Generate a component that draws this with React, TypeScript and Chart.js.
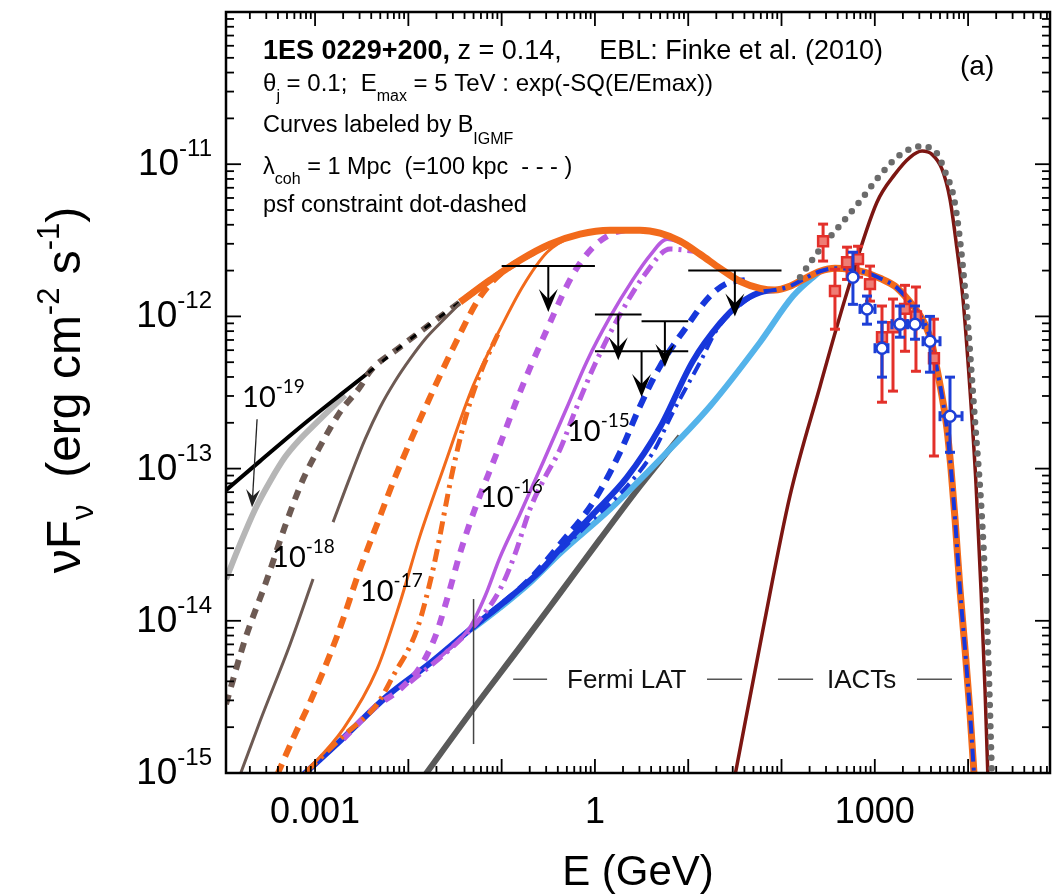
import React, { useEffect, useRef } from "react";
import { Chart, registerables } from "chart.js";

Chart.register(...registerables);

const SANS = '"Liberation Sans", Arial, Helvetica, sans-serif';
const LABEL_FONT = 'Lato, "Liberation Sans", sans-serif';

// ---------------- axes ----------------
const X_MIN = 1.11e-4;
const X_MAX = 7.55e4;
const Y_MIN = 1e-15;
const Y_MAX = 1e-10;
const xTickValues = [0.001, 1, 1000];
const xTickLabels = ["0.001", "1", "1000"];
const yTickExponents = [-15, -14, -13, -12, -11];

// ---------------- curves (E in GeV, vFv in erg cm^-2 s^-1) ----------------
// common upper envelope (all curves merge into it)
const envE = [1.11e-4, 2.57e-4, 6.9e-4, 1.85e-3, 3.89e-3, 8.15e-3, 0.0171, 0.0358, 0.0751, 0.157, 0.33, 0.692, 1.45, 3.04, 4.99, 8.17, 13.4, 21.9, 35.9, 58.9, 85.2, 123, 179, 259, 374, 542, 785, 1137, 1645, 2108, 2698, 3454, 4105, 4642, 5253, 5943, 6561, 7244, 8185, 9268, 10470, 11860];
const envF = [7.21e-14, 1.12e-13, 1.87e-13, 3.04e-13, 4.36e-13, 6.28e-13, 8.89e-13, 1.24e-12, 1.73e-12, 2.34e-12, 2.98e-12, 3.47e-12, 3.68e-12, 3.68e-12, 3.52e-12, 3.12e-12, 2.56e-12, 2.07e-12, 1.7e-12, 1.53e-12, 1.49e-12, 1.58e-12, 1.78e-12, 1.98e-12, 2.07e-12, 2.04e-12, 1.95e-12, 1.78e-12, 1.58e-12, 1.36e-12, 1.13e-12, 8.89e-13, 6.56e-13, 4.5e-13, 2.99e-13, 1.82e-13, 9.91e-14, 4.66e-14, 1.61e-14, 6.52e-15, 2.51e-15, 7.8e-16];

// B = 1e-19 G (light grey)
const b19E = [1.11e-4, 1.57e-4, 2.28e-4, 3.3e-4, 4.77e-4, 6.9e-4, 1.0e-3, 1.45e-3, 2.1e-3];
const b19F = [1.88e-14, 3.19e-14, 5.41e-14, 8.26e-14, 1.19e-13, 1.56e-13, 1.96e-13, 2.45e-13, 3.04e-13];

// B = 1e-18 G (brown) dashed and solid
const b18dE = [1.11e-4, 1.78e-4, 3.06e-4, 4.77e-4, 7.44e-4, 1.13e-3, 1.85e-3, 3.03e-3];
const b18dF = [2.83e-15, 7.57e-15, 1.88e-14, 4.19e-14, 8.51e-14, 1.4e-13, 2.35e-13, 3.43e-13];
const b18sE = [1.57e-4, 2.57e-4, 5.4e-4, 9.52e-4, 1.25e-3, 1.56e-3, 2.37e-3, 3.44e-3, 4.98e-3, 7.2e-3, 0.0104, 0.0151, 0.0219, 0.0358];
const b18sF = [9.7e-16, 2.19e-15, 7.02e-15, 1.88e-14, null, 4.45e-14, 8.79e-14, 1.56e-13, 2.53e-13, 3.75e-13, 5.24e-13, 7.08e-13, 9.02e-13, 1.22e-12];

// B = 1e-17 G (orange) dashed, solid, psf dot-dashed
const b17dE = [3.92e-4, 6.1e-4, 8.84e-4, 1.72e-3, 3.03e-3, 4.98e-3, 6.86e-3, 0.0104, 0.0158, 0.0301, 0.0586, 0.0962, 0.157];
const b17dF = [9.7e-16, 1.8e-15, 2.92e-15, 7.92e-15, 2.18e-14, 4.86e-14, 8.14e-14, 1.49e-13, 2.65e-13, 6.18e-13, 1.34e-12, 1.89e-12, 2.31e-12];
const b17sE = [7.44e-4, 2.0e-3, 4.62e-3, 8.15e-3, 0.0133, 0.0236, 0.0493, 0.0962, 0.169, 0.307, 0.582, 1.0];
const b17sF = [9.7e-16, 1.94e-15, 4.81e-15, 1.32e-14, 3.6e-14, 9.91e-14, 3.48e-13, 8.24e-13, 1.58e-12, 2.64e-12, 3.37e-12, 3.63e-12];
const b17pE = [8.21e-4, 2.0e-3, 4.62e-3, 6.86e-3, 0.0124, 0.0184, 0.0301, 0.0406, 0.0558, 0.0962];
const b17pF = [1.03e-15, 1.75e-15, 2.83e-15, 4.33e-15, 8.81e-15, 2.18e-14, 9.91e-14, 2.11e-13, 3.87e-13, 8.24e-13];

// B = 1e-16 G (purple)
const b16sE = [0.0219, 0.0458, 0.0664, 0.0962, 0.157, 0.278, 0.502, 0.822, 1.45, 2.56, 3.9, 5.93, 9.24];
const b16sF = [5.77e-15, 9.08e-15, 1.45e-14, 2.62e-14, 5.02e-14, 1.1e-13, 2.53e-13, 5.08e-13, 9.88e-13, 1.75e-12, 2.52e-12, 3.21e-12, 2.98e-12];
const b16dE = [2.0e-3, 4.4e-3, 8.15e-3, 0.0133, 0.0193, 0.026, 0.0358, 0.0493, 0.0893, 0.157, 0.307, 0.582, 0.955, 1.56, 2.38];
const b16dF = [1.67e-15, 2.71e-15, 3.56e-15, 4.95e-15, 7.8e-15, 1.39e-14, 2.78e-14, 5.02e-14, 1.28e-13, 3.18e-13, 8.24e-13, 1.89e-12, 2.85e-12, 3.52e-12, 3.74e-12];
const b16pE = [0.0104, 0.028, 0.0586, 0.0962, 0.139, 0.201, 0.292, 0.423, 0.612, 1.0, 1.86, 3.44, 6.38, 11.8];
const b16pF = [3.95e-15, 6.52e-15, 1.03e-14, 1.61e-14, 2.74e-14, 5.41e-14, 8.79e-14, 1.34e-13, 2.38e-13, 4.85e-13, 1.03e-12, 1.89e-12, 2.77e-12, 2.68e-12];

// B = 1e-15 G (blue)
const b15sE = [7.44e-4, 1.85e-3, 5.92e-3, 0.0171, 0.0493, 0.123, 0.258, 0.423, 0.955, 2.21, 4.99, 11.2, 21.9, 35.9, 58.9, 85.2];
const b15sF = [9.7e-16, 1.62e-15, 3.2e-15, 5.27e-15, 9.08e-15, 1.43e-14, 2.12e-14, 2.96e-14, 5.02e-14, 8.79e-14, 1.87e-13, 5.08e-13, 9.02e-13, 1.22e-12, 1.44e-12, 1.49e-12];
const b15dE = [0.0493, 0.201, 0.423, 0.955, 1.86, 3.04, 4.99, 9.7, 17.1, 26.1, 40.6];
const b15dF = [9.08e-15, 1.88e-14, 3.19e-14, 6.01e-14, 1.28e-13, 2.57e-13, 4.71e-13, 8.63e-13, 1.36e-12, 1.65e-12, 1.73e-12];
const b15pE = [0.423, 0.955, 2.21, 4.2, 6.87, 13.4, 20.4, 30.2, 58.9];
const b15pF = [2.86e-14, 4.66e-14, 7.66e-14, 1.28e-13, 2.35e-13, 5.0e-13, 8.24e-13, 1.08e-12, 1.44e-12];

// no-cascade (light blue) and primary power law (dark grey)
const noCascE = [0.0493, 0.0962, 0.201, 0.423, 1.45, 4.99, 17.1, 58.9, 133, 259];
const noCascF = [8.9e-15, 1.22e-14, 1.78e-14, 2.78e-14, 5.41e-14, 1.15e-13, 2.57e-13, 6.77e-13, 1.36e-12, 1.98e-12];
const primE = [0.0151, 0.0493, 0.157, 0.423, 1.135, 3.04, 8.17];
const primF = [9.7e-16, 2.62e-15, 6.71e-15, 1.52e-14, 3.44e-14, 7.66e-14, 1.63e-13];

// intrinsic (grey dotted) and reprocessed (dark red)
const intrE = [158, 259, 424, 694, 1137, 1862, 3048, 4416, 5648, 7244, 9268, 11860, 14090, 16340, 18030];
const intrF = [1.81e-12, 2.77e-12, 3.97e-12, 5.71e-12, 8.47e-12, 1.15e-11, 1.31e-11, 1.22e-11, 8.99e-12, 5.46e-12, 1.51e-12, 2.05e-13, 4.66e-14, 6.52e-15, 9.1e-16];
const reprE = [31.8, 63.4, 123, 259, 504, 1054, 1645, 2384, 3206, 4105, 5253, 6397, 7604, 8817, 10470, 12160, 13750, 15180, 16340];
const reprF = [9.7e-16, 8.81e-15, 6.59e-14, 3.48e-13, 1.44e-12, 5.62e-12, 8.6e-12, 1.11e-11, 1.22e-11, 1.16e-11, 9.27e-12, 5.89e-12, 2.77e-12, 1.3e-12, 3.33e-13, 7.91e-14, 1.61e-14, 3.56e-15, 9.1e-16];

// Fermi LAT low-energy marker line
const fermiEdgeE = [0.05, 0.05];
const fermiEdgeF = [1.55e-15, 1.39e-14];

// IACT data (red squares)
const redE = [279, 374, 504, 661, 888, 1194, 1567, 2108, 2762, 4306];
const redF = [3.12e-12, 1.47e-12, 2.27e-12, 2.38e-12, 1.63e-12, 7.3e-13, 8.49e-13, 1.12e-12, 1.0e-12, 5.31e-13];
const redHi = [4.04e-12, 2.04e-12, 2.85e-12, 2.89e-12, 2.14e-12, 1.17e-12, 1.3e-12, 1.6e-12, 1.56e-12, 9.59e-13];
const redLo = [2.31e-12, 8.24e-13, 1.75e-12, 1.81e-12, 1.26e-12, 2.73e-13, 3.23e-13, 5.9e-13, 4.36e-13, 1.21e-13];

// IACT data (blue open circles)
const blueE = [583, 825, 1194, 1862, 2698, 3902, 6397];
const blueF = [1.81e-12, 1.12e-12, 6.18e-13, 8.89e-13, 8.89e-13, 6.87e-13, 2.21e-13];
const blueHi = [2.64e-12, 1.36e-12, 9.16e-13, 1.17e-12, 1.17e-12, 1.0e-12, 3.99e-13];
const blueLo = [1.2e-12, 8.89e-13, 3.99e-13, 7.3e-13, 7.08e-13, 4.3e-13, 1.28e-13];
const blueElo = [null, 694, 1005, 1528, 2213, 3289, 5000];
const blueEhi = [null, 1005, 1384, 2270, 3289, 5000, 8610];

// Fermi LAT upper limits
const ulElo = [0.1, 1, 3.16, 1, 10];
const ulEhi = [1, 3.16, 10, 10, 100];
const ulF = [2.14e-12, 1.03e-12, 9.3e-13, 5.9e-13, 2.0e-12];
const UL_ARROW_RATIO = 0.5;

// ---------------- colours ----------------
const C_ORANGE = "#f26a1b";
const C_PURPLE = "#b75ae0";
const C_BLUE = "#1737db";
const C_LBLUE = "#54b3ea";
const C_DGREY = "#5a5a5a";
const C_LGREY = "#b6b6b6";
const C_BROWN = "#6d5a53";
const C_DRED = "#7c1612";
const C_DOT = "#6b6b6b";
const C_RED = "#e3302a";
const C_PBLUE = "#1d3fd6";

// ---------------- annotations (data coordinates) ----------------
const TEXT_X = 2.77e-4;
const textBaselines = [4.9e-11, 3.02e-11, 1.62e-11, 8.6e-12, 4.84e-12];
const panelLabel = { x: 8190, y: 3.85e-11, text: "(a)" };
const curveLabels = [
  { exp: "-19", x: 1.65e-4, y: 2.53e-13 },
  { exp: "-18", x: 3.46e-4, y: 2.25e-14 },
  { exp: "-17", x: 3.03e-3, y: 1.35e-14 },
  { exp: "-16", x: 0.0586, y: 5.57e-14 },
  { exp: "-15", x: 0.502, y: 1.51e-13 },
];
const arrow19 = { x0: 2.39e-4, y0: 2.11e-13, x1: 2.11e-4, y1: 5.57e-14 };
const bandY = 4.13e-15;
const bandDashes = [[0.133, 0.307], [15.9, 37.8], [91.6, 218], [2831, 6714]];
const bandTexts = [{ x: 0.502, text: "Fermi LAT" }, { x: 307, text: "IACTs" }];

// ---------------- helpers ----------------
type P = { x: number; y: number | null };
const pts = (E: number[], F: (number | null)[]): P[] => E.map((x, i) => ({ x, y: F[i] }));
const envBetween = (lo: number, hi: number): P[] =>
  pts(envE, envF).filter((p) => p.x > lo && p.x <= hi);

function curve(label: string, data: P[], color: string, width: number, order: number, dash: number[] = [], extra: any = {}) {
  return {
    label,
    data,
    borderColor: color,
    backgroundColor: color,
    borderWidth: width,
    borderDash: dash,
    order,
    pointRadius: 0,
    pointHoverRadius: 0,
    fill: false,
    spanGaps: false,
    cubicInterpolationMode: "monotone",
    ...extra,
  };
}

const DD = [13, 6, 3, 6];

function buildDatasets() {
  return [
    curve("primary", pts(primE, primF), C_DGREY, 6, 40),
    curve("no cascade", pts(noCascE, noCascF), C_LBLUE, 6, 39),
    curve("1e-19", pts(b19E, b19F), C_LGREY, 6, 38),
    curve("envelope", envBetween(0, 3.9e-3), "#000", 4, 37),
    curve("1e-18 dashed", [...pts(b18dE, b18dF), ...envBetween(3.03e-3, 0.33)], C_BROWN, 6, 36, [10, 8]),
    curve("envelope dashed", envBetween(1.8e-3, 0.33), "#000", 3, 35, [7, 11]),
    curve("1e-18", pts(b18sE, b18sF), C_BROWN, 3, 34),
    curve("1e-15", pts(b15sE, b15sF), C_BLUE, 6, 33),
    curve("1e-15 dashed", pts(b15dE, b15dF), C_BLUE, 6, 32, [12, 8]),
    curve("1e-16", pts(b16sE, b16sF), C_PURPLE, 3.5, 31),
    curve("1e-16 dashed", pts(b16dE, b16dF), C_PURPLE, 6, 30, [10, 9]),
    curve("1e-16 psf", pts(b16pE, b16pF), C_PURPLE, 5, 29, DD),
    curve("1e-17", pts(b17sE, b17sF), C_ORANGE, 3, 28),
    curve("1e-17 dashed", pts(b17dE, b17dF), C_ORANGE, 6, 27, [12, 8]),
    curve("1e-17 psf", pts(b17pE, b17pF), C_ORANGE, 5, 26, DD),
    curve("total", envBetween(0.03, Infinity), C_ORANGE, 7, 25),
    curve("1e-15 psf", [...pts(b15pE, b15pF), ...envBetween(58.9, Infinity)], C_BLUE, 4, 24, DD),
    curve("reprocessed", pts(reprE, reprF), C_DRED, 3.5, 23),
    curve("intrinsic", pts(intrE, intrF), C_DOT, 6.5, 22, [0, 10.5], { borderCapStyle: "round" }),
    curve("Fermi edge", pts(fermiEdgeE, fermiEdgeF), "#444", 1.5, 21, [], { cubicInterpolationMode: "default", tension: 0 }),
    {
      label: "IACT (red)",
      data: pts(redE, redF),
      showLine: false,
      order: 11,
      pointStyle: "rect",
      pointRadius: 7,
      pointHoverRadius: 7,
      pointBackgroundColor: "#ef7d75",
      pointBorderColor: C_RED,
      pointBorderWidth: 2.5,
      errorBars: { E: redE, F: redF, lo: redLo, hi: redHi, color: C_RED, width: 3, cap: 5 },
    },
    {
      label: "IACT (blue)",
      data: pts(blueE, blueF),
      showLine: false,
      order: 10,
      pointStyle: "circle",
      pointRadius: 5.5,
      pointHoverRadius: 5.5,
      pointBackgroundColor: "#ffffff",
      pointBorderColor: C_PBLUE,
      pointBorderWidth: 2.5,
      errorBars: { E: blueE, F: blueF, lo: blueLo, hi: blueHi, elo: blueElo, ehi: blueEhi, color: C_PBLUE, width: 3, cap: 5 },
    },
  ];
}

// ---------------- drawing helpers ----------------
function seg(ctx: CanvasRenderingContext2D, x0: number, y0: number, x1: number, y1: number) {
  ctx.beginPath();
  ctx.moveTo(x0, y0);
  ctx.lineTo(x1, y1);
  ctx.stroke();
}

function stealth(ctx: CanvasRenderingContext2D, x: number, y: number, ang: number, len: number, half: number, notch: number) {
  const c = Math.cos(ang), s = Math.sin(ang);
  const bx = x - c * len, by = y - s * len;
  const nx = x - c * notch, ny = y - s * notch;
  ctx.beginPath();
  ctx.moveTo(x, y);
  ctx.lineTo(bx - s * half, by + c * half);
  ctx.lineTo(nx, ny);
  ctx.lineTo(bx + s * half, by - c * half);
  ctx.closePath();
  ctx.fill();
}

type Part = { t: string; font: string; dy?: number };
function richWidth(ctx: CanvasRenderingContext2D, parts: Part[]) {
  let w = 0;
  for (const p of parts) {
    ctx.font = p.font;
    w += ctx.measureText(p.t).width;
  }
  return w;
}
function rich(ctx: CanvasRenderingContext2D, x: number, y: number, parts: Part[]) {
  let cx = x;
  for (const p of parts) {
    ctx.font = p.font;
    ctx.fillText(p.t, cx, y + (p.dy || 0));
    cx += ctx.measureText(p.t).width;
  }
  return cx;
}

function drawErrorBars(chart: any, eb: any) {
  const { ctx, scales } = chart;
  const xs = scales.x, ys = scales.y;
  ctx.save();
  ctx.strokeStyle = eb.color;
  ctx.lineWidth = eb.width;
  eb.E.forEach((e: number, i: number) => {
    const px = xs.getPixelForValue(e);
    const pyc = ys.getPixelForValue(eb.F[i]);
    const yt = ys.getPixelForValue(eb.hi[i]);
    const yb = ys.getPixelForValue(eb.lo[i]);
    seg(ctx, px, yt, px, yb);
    seg(ctx, px - eb.cap, yt, px + eb.cap, yt);
    seg(ctx, px - eb.cap, yb, px + eb.cap, yb);
    if (eb.elo && eb.elo[i] != null) {
      const xl = xs.getPixelForValue(eb.elo[i]);
      const xr = xs.getPixelForValue(eb.ehi[i]);
      seg(ctx, xl, pyc, xr, pyc);
      seg(ctx, xl, pyc - eb.cap, xl, pyc + eb.cap);
      seg(ctx, xr, pyc - eb.cap, xr, pyc + eb.cap);
    }
  });
  ctx.restore();
}

function drawUpperLimits(chart: any) {
  const { ctx, scales } = chart;
  const xs = scales.x, ys = scales.y;
  ctx.save();
  ctx.strokeStyle = "#000";
  ctx.fillStyle = "#000";
  ctx.lineWidth = 2;
  ulF.forEach((f, i) => {
    const xl = xs.getPixelForValue(ulElo[i]);
    const xr = xs.getPixelForValue(ulEhi[i]);
    const xc = xs.getPixelForValue(Math.sqrt(ulElo[i] * ulEhi[i]));
    const y0 = ys.getPixelForValue(f);
    const y1 = ys.getPixelForValue(f * UL_ARROW_RATIO);
    seg(ctx, xl, y0, xr, y0);
    seg(ctx, xc, y0, xc, y1 - 12);
    stealth(ctx, xc, y1, Math.PI / 2, 23, 9.5, 13);
  });
  ctx.restore();
}

function drawBandLabels(chart: any) {
  const { ctx, scales } = chart;
  const xs = scales.x, ys = scales.y;
  const yy = ys.getPixelForValue(bandY);
  ctx.save();
  ctx.strokeStyle = "#555";
  ctx.lineWidth = 1.6;
  bandDashes.forEach(([a, b]) => seg(ctx, xs.getPixelForValue(a), yy, xs.getPixelForValue(b), yy));
  ctx.fillStyle = "#111";
  ctx.font = `26px ${SANS}`;
  ctx.textBaseline = "alphabetic";
  bandTexts.forEach((b) => ctx.fillText(b.text, xs.getPixelForValue(b.x), yy + 9));
  ctx.strokeStyle = "#222";
  ctx.fillStyle = "#222";
  ctx.lineWidth = 1.3;
  const ax0 = xs.getPixelForValue(arrow19.x0), ay0 = ys.getPixelForValue(arrow19.y0);
  const ax1 = xs.getPixelForValue(arrow19.x1), ay1 = ys.getPixelForValue(arrow19.y1);
  const ang = Math.atan2(ay1 - ay0, ax1 - ax0);
  seg(ctx, ax0, ay0, ax1 - Math.cos(ang) * 8, ay1 - Math.sin(ang) * 8);
  stealth(ctx, ax1, ay1, ang, 18, 7, 11);
  ctx.restore();
}

function drawFrame(chart: any) {
  const { ctx, chartArea, scales } = chart;
  const xs = scales.x, ys = scales.y;
  const { left, right, top, bottom } = chartArea;
  ctx.save();
  ctx.strokeStyle = "#000";
  ctx.lineWidth = 1.8;
  for (let k = -5; k <= 5; k++) {
    for (let m = 1; m <= 9; m++) {
      const v = m * Math.pow(10, k);
      const len = m === 1 ? 14 : 7;
      if (v >= X_MIN && v <= X_MAX) {
        const p = xs.getPixelForValue(v);
        seg(ctx, p, bottom, p, bottom - len);
        seg(ctx, p, top, p, top + len);
      }
    }
  }
  for (let k = -16; k <= -10; k++) {
    for (let m = 1; m <= 9; m++) {
      const v = m * Math.pow(10, k);
      const len = m === 1 ? 15 : 8;
      if (v >= Y_MIN * 0.999 && v <= Y_MAX * 1.001) {
        const p = ys.getPixelForValue(v);
        seg(ctx, left, p, left + len, p);
        seg(ctx, right, p, right - len, p);
      }
    }
  }
  ctx.lineWidth = 2.5;
  ctx.strokeRect(left, top, right - left, bottom - top);
  ctx.restore();
}

function drawYTickLabels(chart: any) {
  const { ctx, chartArea, scales } = chart;
  const ys = scales.y;
  ctx.save();
  ctx.fillStyle = "#000";
  ctx.textBaseline = "alphabetic";
  yTickExponents.forEach((e) => {
    const p = ys.getPixelForValue(Math.pow(10, e));
    const parts: Part[] = [
      { t: "10", font: `37px ${SANS}` },
      { t: String(e), font: `24px ${SANS}`, dy: -19 },
    ];
    const w = richWidth(ctx, parts) + 1;
    rich(ctx, chartArea.left - 13 - w, p + 11, parts);
  });
  ctx.restore();
}

function drawYTitle(chart: any) {
  const { ctx } = chart;
  const big = `48px ${SANS}`, small = `31px ${SANS}`;
  const parts: Part[] = [
    { t: "\u03BDF", font: big },
    { t: "\u03BD", font: small, dy: 13 },
    { t: "  (erg cm", font: big },
    { t: "-2", font: small, dy: -21 },
    { t: " s", font: big },
    { t: "-1", font: small, dy: -21 },
    { t: ")", font: big },
  ];
  ctx.save();
  ctx.fillStyle = "#000";
  ctx.translate(80, 390);
  ctx.rotate(-Math.PI / 2);
  const w = richWidth(ctx, parts);
  rich(ctx, -w / 2, 0, parts);
  ctx.restore();
}

function drawTextBlock(chart: any) {
  const { ctx, scales } = chart;
  const xs = scales.x, ys = scales.y;
  const x0 = xs.getPixelForValue(TEXT_X);
  const b = textBaselines.map((v) => ys.getPixelForValue(v));
  const n = `24px ${SANS}`, n2 = `23.5px ${SANS}`, s = `16px ${SANS}`;
  ctx.save();
  ctx.fillStyle = "#000";
  ctx.textBaseline = "alphabetic";
  rich(ctx, x0, b[0], [
    { t: "1ES 0229+200,", font: `bold 27px ${SANS}` },
    { t: " z = 0.14,     EBL: Finke et al. (2010)", font: `27px ${SANS}` },
  ]);
  rich(ctx, x0, b[1], [
    { t: "\u03B8", font: n },
    { t: "j", font: s, dy: 10 },
    { t: " = 0.1;  E", font: n },
    { t: "max", font: s, dy: 10 },
    { t: " = 5 TeV : exp(-SQ(E/Emax))", font: n },
  ]);
  rich(ctx, x0, b[2], [
    { t: "Curves labeled by B", font: n2 },
    { t: "IGMF", font: s, dy: 12 },
  ]);
  rich(ctx, x0, b[3], [
    { t: "\u03BB", font: n2 },
    { t: "coh", font: s, dy: 10 },
    { t: " = 1 Mpc  (=100 kpc  - - - )", font: n2 },
  ]);
  rich(ctx, x0, b[4], [{ t: "psf constraint dot-dashed", font: n2 }]);
  ctx.font = `28px ${SANS}`;
  ctx.fillText(panelLabel.text, xs.getPixelForValue(panelLabel.x), ys.getPixelForValue(panelLabel.y));
  ctx.restore();
}

function drawCurveLabels(chart: any) {
  const { ctx, scales } = chart;
  const xs = scales.x, ys = scales.y;
  ctx.save();
  ctx.fillStyle = "#000";
  ctx.textBaseline = "alphabetic";
  curveLabels.forEach((l) => {
    rich(ctx, xs.getPixelForValue(l.x), ys.getPixelForValue(l.y), [
      { t: "10", font: `29px ${LABEL_FONT}` },
      { t: l.exp, font: `19px ${LABEL_FONT}`, dy: -14 },
    ]);
  });
  ctx.restore();
}

const decorPlugin = {
  id: "decor",
  beforeDatasetDraw(chart: any, args: any) {
    const ds = chart.data.datasets[args.index];
    if (ds && ds.errorBars) drawErrorBars(chart, ds.errorBars);
  },
  afterDatasetsDraw(chart: any) {
    drawUpperLimits(chart);
    drawBandLabels(chart);
  },
  afterDraw(chart: any) {
    drawFrame(chart);
    drawYTickLabels(chart);
    drawYTitle(chart);
    drawTextBlock(chart);
    drawCurveLabels(chart);
  },
};

export default function App() {
  const ref = useRef<HTMLCanvasElement | null>(null);
  useEffect(() => {
    if (!ref.current) return;
    const chart = new Chart(ref.current, {
      type: "line",
      data: { datasets: buildDatasets() as any },
      options: {
        animation: false,
        responsive: false,
        maintainAspectRatio: false,
        devicePixelRatio: 1,
        layout: { autoPadding: false, padding: { left: 0, right: 3, top: 12, bottom: 0 } },
        plugins: { legend: { display: false }, tooltip: { enabled: false } },
        events: [],
        scales: {
          x: {
            type: "logarithmic",
            min: X_MIN,
            max: X_MAX,
            grid: { display: false, drawTicks: false },
            border: { display: false },
            afterBuildTicks: (s: any) => {
              s.ticks = xTickValues.map((v) => ({ value: v }));
            },
            ticks: {
              autoSkip: false,
              maxRotation: 0,
              minRotation: 0,
              padding: 18,
              color: "#000",
              font: { family: SANS, size: 36 },
              callback: (_v: any, i: number) => xTickLabels[i],
            },
            title: {
              display: true,
              text: "E (GeV)",
              color: "#000",
              font: { family: SANS, size: 42 },
              padding: { top: 0, bottom: -4 },
            },
            afterFit: (s: any) => {
              s.height = 122;
            },
          },
          y: {
            type: "logarithmic",
            min: Y_MIN,
            max: Y_MAX,
            grid: { display: false, drawTicks: false },
            border: { display: false },
            ticks: { display: false },
            afterFit: (s: any) => {
              s.width = 226;
            },
          },
        },
      } as any,
      plugins: [decorPlugin as any],
    });
    return () => chart.destroy();
  }, []);
  return (
    <div style={{ position: "fixed", left: 0, top: 0, width: 1053, height: 895, background: "#fff" }}>
      <canvas ref={ref} width={1053} height={895} style={{ display: "block" }} />
    </div>
  );
}
